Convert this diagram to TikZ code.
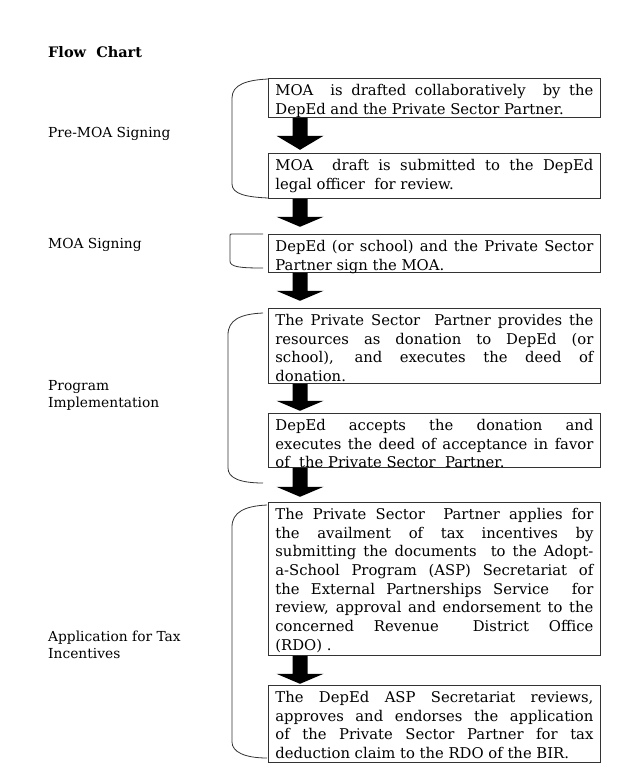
\documentclass[tikz,border=0pt]{standalone}
\usepackage{fontspec}
\setmainfont{DejaVu Serif}
\usetikzlibrary{calc}
\newcommand\jl[1]{\makebox[\linewidth][s]{#1}\\}
\newcommand\boxtext[2]{\parbox[c][#1pt][t]{318pt}{\fontsize{14.8}{18.7}\selectfont\rule{0pt}{17pt}#2}}
\newcommand\blockarrow[3]{\fill[arrowfill] ($(#1.south west)+(24.5,0)$) -- ++(0,#2) -- ++(-16,0) -- ++(23.5,#3) -- ++(23.5,-#3) -- ++(-16,0) -- ++(0,-#2) -- cycle;}
\tikzset{
  stepbox/.style={draw=black!80, line width=0.8pt, inner xsep=7pt, inner ysep=0pt, anchor=north west},
  arrowfill/.style={fill=black},
  bracket/.style={draw=black!80, line width=0.8pt},
  label/.style={anchor=north west, inner sep=0pt, align=left, font=\fontsize{13.8}{17}\selectfont},
}
\begin{document}
\begin{tikzpicture}[x=1pt,y=-1pt]
\fill[white] (0,0) rectangle (621,780);
\useasboundingbox (0,0) rectangle (621,780);

% title and stage labels
\node[anchor=base west, inner sep=0pt, font=\fontsize{14.5}{17}\selectfont\bfseries] (title) at (48,57) {Flow\ \ Chart};
\node[label] (l1) at (48,125) {\rule{0pt}{12pt}Pre-MOA Signing};
\node[label] (l2) at (48,236) {\rule{0pt}{12pt}MOA Signing};
\node[label] (l3) at (48,378) {\rule{0pt}{12pt}Program\\Implementation};
\node[label] (l4) at (48,629) {\rule{0pt}{12pt}Application for Tax\\Incentives};

% boxes
\node[stepbox] (b1) at (268,78) {\boxtext{39}{\jl{MOA\ \ is drafted collaboratively\ \ by the}DepEd and the Private Sector Partner.}};
\node[stepbox] (b2) at (268,153) {\boxtext{45}{\jl{MOA\ \ draft is submitted to the DepEd}legal officer\ \ for review.}};
\node[stepbox] (b3) at (268,234) {\boxtext{38}{\jl{DepEd (or school) and the Private Sector}Partner sign the MOA.}};
\node[stepbox] (b4) at (268,308) {\boxtext{75}{\jl{The Private Sector\ \ Partner provides the}\jl{resources as donation to DepEd (or}\jl{school), and executes the deed of}donation.}};
\node[stepbox] (b5) at (268,413) {\boxtext{54}{\jl{DepEd accepts the donation and}\jl{executes the deed of acceptance in favor}of\ \ the Private Sector\ \ Partner.}};
\node[stepbox] (b6) at (268,502) {\boxtext{153}{\jl{The Private Sector\ \ Partner applies for}\jl{the availment of tax incentives by}\jl{submitting the documents\ \ to the Adopt-}\jl{a-School Program (ASP) Secretariat of}\jl{the External Partnerships Service\ \ for}\jl{review, approval and endorsement to the}\jl{concerned Revenue\hspace{14pt} District Office}(RDO) .}};
\node[stepbox] (b7) at (268,685) {\boxtext{77}{\jl{The DepEd ASP Secretariat reviews,}\jl{approves and endorses the application}\jl{of the Private Sector Partner for tax}deduction claim to the RDO of the BIR.}};

% block arrows
\blockarrow{b1}{18}{14}
\blockarrow{b2}{18}{10}
\blockarrow{b3}{18}{10}
\blockarrow{b4}{17}{10}
\blockarrow{b5}{19}{10}
\blockarrow{b6}{18}{10}

% brackets
\draw[bracket] (268,79) .. controls (248,80) and (232,84) .. (232,98) -- (232,184) .. controls (232,194) and (246,197) .. (268,198);
\draw[bracket] (263,234) -- (232,234) .. controls (230,234) .. (230,236) -- (230,261) .. controls (230,267) and (240,268) .. (263,268);
\draw[bracket] (263,313) .. controls (240,314) and (228,320) .. (228,335) -- (228,468) .. controls (228,478) and (240,483) .. (263,483);
\draw[bracket] (267,505) .. controls (245,506) and (232,512) .. (232,527) -- (232,742) .. controls (232,752) and (245,758) .. (267,758);
\end{tikzpicture}
\end{document}
